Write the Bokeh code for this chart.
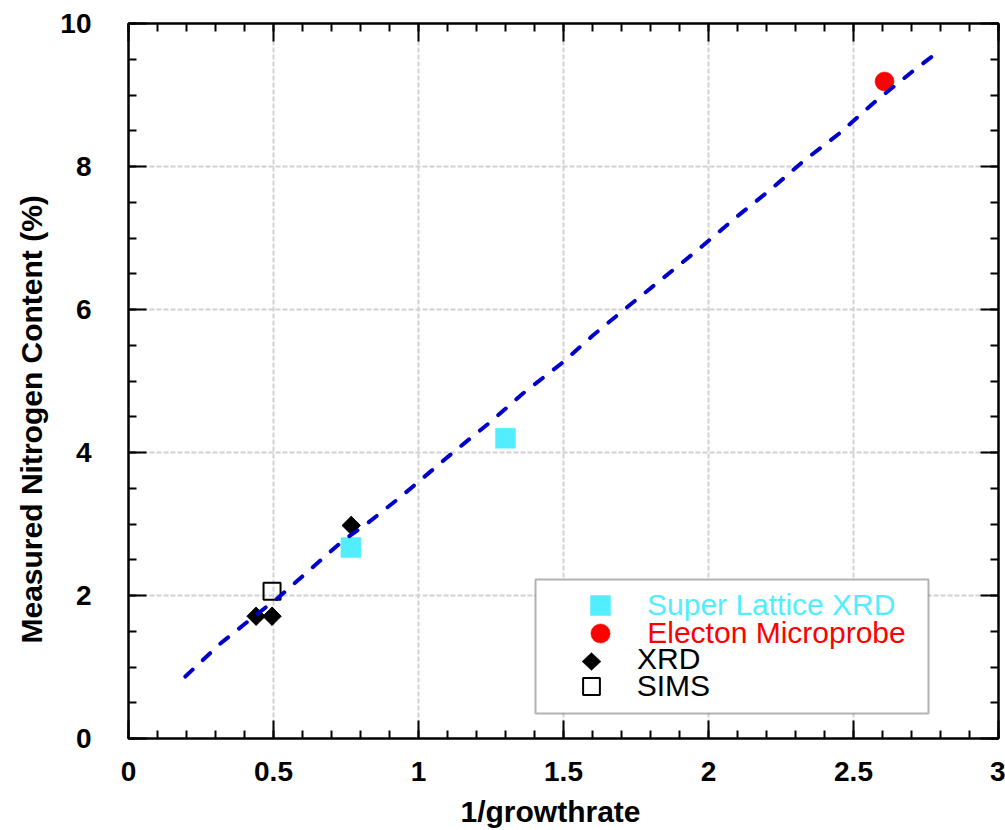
import math
from bokeh.plotting import figure
from bokeh.models import (Range1d, FixedTicker, LinearAxis, Legend, LegendItem,
                          BoxAnnotation, PolyAnnotation, Title,
                          CustomJSTickFormatter)
from bokeh.embed import file_html
from bokeh.resources import INLINE

# ---- data ----
sl_x = [0.767, 1.30]
sl_y = [2.67, 4.20]
em_x = [2.607]
em_y = [9.19]
xrd_x = [0.44, 0.495, 0.768]
xrd_y = [1.71, 1.71, 2.98]
sims_x = [0.495]
sims_y = [2.06]
fit_x = [0.196, 0.317, 0.437, 0.513, 0.740, 0.823, 0.936, 1.005, 1.119, 1.246,
         1.360, 1.497, 1.601, 1.718, 1.842, 1.969, 2.090, 2.210, 2.330, 2.451,
         2.571, 2.699, 2.775]
fit_y = [0.867, 1.329, 1.720, 1.958, 2.769, 3.007, 3.371, 3.608, 4.000, 4.420,
         4.825, 5.259, 5.636, 6.028, 6.434, 6.853, 7.273, 7.664, 8.084, 8.462,
         8.895, 9.315, 9.552]
x_major = [0, 0.5, 1, 1.5, 2, 2.5, 3]
y_major = [0, 2, 4, 6, 8, 10]
x_minor = [round(i * 0.1, 1) for i in range(31)]
y_minor = [round(i * 0.5, 1) for i in range(21)]
x_title = "1/growthrate"
y_title = "Measured Nitrogen Content (%)"

FONT = "Liberation Sans"
# frame geometry in page pixels (used for annotation placement only)
FL, FR, FT, FB = 128, 998, 23, 738
PX_X = (FR - FL) / 3.0
PX_Y = (FB - FT) / 10.0

def dx(px):
    return (px - FL) / PX_X

def dy(py):
    return (FB - py) / PX_Y

p = figure(frame_width=FR - FL, frame_height=FB - FT, output_backend="svg",
           toolbar_location=None,
           x_range=Range1d(0, 3), y_range=Range1d(0, 10),
           min_border_left=FL, min_border_right=1005 - FR, min_border_top=FT,
           min_border_bottom=830 - FB)
p.background_fill_color = "white"
p.border_fill_color = "white"
p.outline_line_color = "black"
p.outline_line_width = 2

fmt = CustomJSTickFormatter(code="return String(tick)")
blank = CustomJSTickFormatter(code="return ''")

def style_axis(ax, ticks, minor, show_labels):
    ax.ticker = FixedTicker(ticks=ticks, minor_ticks=minor)
    ax.axis_line_color = "black"
    ax.axis_line_width = 2
    ax.major_tick_in = 18
    ax.major_tick_out = 0
    ax.minor_tick_in = 8
    ax.minor_tick_out = 0
    ax.major_tick_line_width = 2
    ax.minor_tick_line_width = 2
    ax.major_tick_line_color = "black"
    ax.minor_tick_line_color = "black"
    ax.axis_label = None
    if show_labels:
        ax.formatter = fmt
        ax.major_label_text_font = FONT
        ax.major_label_text_font_style = "bold"
        ax.major_label_text_font_size = "28px"
        ax.major_label_text_color = "black"
    else:
        ax.formatter = blank
        ax.major_label_text_font_size = "1px"
        ax.major_label_standoff = 0

style_axis(p.xaxis[0], x_major, x_minor, True)
style_axis(p.yaxis[0], y_major, y_minor, True)
p.xaxis[0].major_label_standoff = 23
p.yaxis[0].major_label_standoff = 37

top_ax = LinearAxis()
right_ax = LinearAxis()
style_axis(top_ax, x_major, x_minor, False)
style_axis(right_ax, y_major, y_minor, False)
p.add_layout(top_ax, "above")
p.add_layout(right_ax, "right")

for g, t in ((p.xgrid[0], x_major), (p.ygrid[0], y_major)):
    g.ticker = FixedTicker(ticks=t)
    g.grid_line_color = "#d2d2d2"
    g.grid_line_width = 2
    g.grid_line_dash = "5 2"

# axis titles
p.add_layout(Title(text=x_title, align="left", offset=460 - FL, standoff=18,
                   text_font=FONT, text_font_style="bold",
                   text_font_size="30px", text_color="black"), "below")
p.add_layout(Title(text=y_title, align="left", offset=FB - 643, standoff=20,
                   text_font=FONT, text_font_style="bold",
                   text_font_size="30px", text_color="black"), "left")

# ---- marks ----
r_sl = p.scatter(sl_x, sl_y, marker="square", size=20, fill_color="#52EEFF",
                 line_color="#52EEFF", line_width=0.5)
r_em = p.scatter(em_x, em_y, marker="circle", size=19, fill_color="#FF0000",
                 line_color="#FF0000", line_width=0.5)
r_xrd = p.scatter(xrd_x, xrd_y, marker="square", size=13, angle=math.pi / 4,
                  fill_color="black", line_color="black", line_width=1)
r_sims = p.scatter(sims_x, sims_y, marker="square", size=17, fill_color=None,
                   line_color="black", line_width=2)
p.line(fit_x, fit_y, line_color="#0000CC", line_width=4, line_dash="10 14",
       line_cap="round")

# ---- legend ----
box = BoxAnnotation(left=dx(535), right=dx(928), top=dy(579), bottom=dy(713),
                    fill_color="white", fill_alpha=1.0,
                    line_color="black", line_width=2, level="overlay")
p.add_layout(box)

LH = 32

def add_legend(renderer, label, color, marker_size, cx, cy, text_left):
    g = marker_size / 0.4
    h = max(g, LH)
    loc_x = cx - FL - g / 2
    loc_y = FB - cy - h / 2
    standoff = int(round(text_left - (FL + loc_x + g)))
    leg = Legend(items=[LegendItem(label=label, renderers=[renderer])],
                 location=(loc_x, loc_y), glyph_width=int(round(g)),
                 glyph_height=int(round(h)), label_standoff=standoff,
                 padding=0, margin=0, spacing=0,
                 border_line_color=None, background_fill_alpha=0,
                 label_text_font=FONT, label_text_font_size="30px",
                 label_text_color=color, label_height=LH)
    p.add_layout(leg, "center")

add_legend(r_sl, "Super Lattice XRD", "#52EEFF", 20, 600, 605, 647)
add_legend(r_em, "Electon Microprobe", "#FF0000", 19, 600, 633, 647)
add_legend(r_xrd, "XRD", "black", 0, 637, 660, 637)
add_legend(r_sims, "SIMS", "black", 17, 591, 686, 637)

# rotated-square legend key for XRD
kx, ky, hw, hh = 591, 661, 9.5, 9.0
p.add_layout(PolyAnnotation(xs=[dx(kx - hw), dx(kx), dx(kx + hw), dx(kx)],
                            ys=[dy(ky), dy(ky - hh), dy(ky), dy(ky + hh)],
                            fill_color="black", fill_alpha=1.0,
                            line_color="black", line_width=1, level="overlay"))

open("out.html", "w").write(file_html(p, INLINE))
